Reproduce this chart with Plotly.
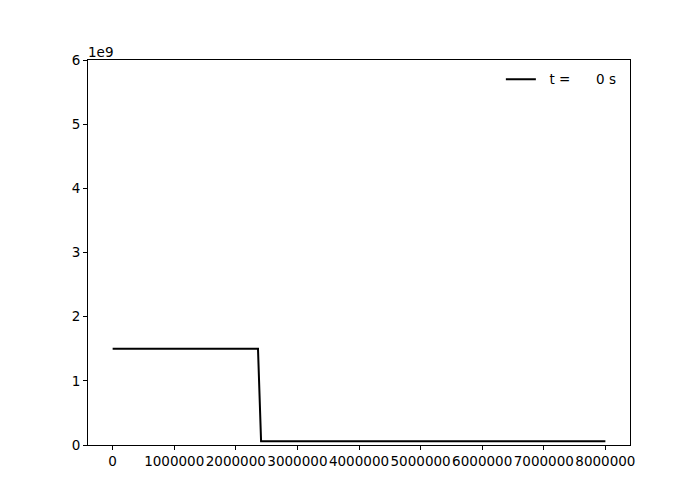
import plotly.graph_objects as go

x_vals = [0, 2360000, 2410000, 8000000]
y_vals = [1.5e9, 1.5e9, 0.06e9, 0.06e9]
series_name = "\u00a0\u00a0t =\u00a0\u00a0\u00a0\u00a0\u00a0\u00a00 s"
x_ticks = [0, 1000000, 2000000, 3000000, 4000000, 5000000, 6000000, 7000000, 8000000]
x_ticklabels = [str(v) for v in x_ticks]
y_ticks = [0, 1e9, 2e9, 3e9, 4e9, 5e9, 6e9]
y_ticklabels = ["0", "1", "2", "3", "4", "5", "6"]

fig = go.Figure()
fig.add_trace(go.Scatter(x=x_vals, y=y_vals, mode="lines", name=series_name,
                         line=dict(color="black", width=2), showlegend=True))

axis_common = dict(showgrid=False, zeroline=False, showline=True, linecolor="black",
                   linewidth=1, mirror=True, ticks="outside", ticklen=4, tickcolor="black",
                   automargin=False, tickangle=0,
                   tickfont=dict(family="DejaVu Sans", size=13.5, color="black"))
fig.update_xaxes(range=[-400000, 8400000], tickvals=x_ticks, ticktext=x_ticklabels, **axis_common)
fig.update_yaxes(range=[0, 6e9], tickvals=y_ticks, ticktext=y_ticklabels, **axis_common)

fig.add_annotation(text="1e9", xref="paper", yref="paper", x=0, y=1, xanchor="left",
                   yanchor="bottom", showarrow=False, yshift=-2, xshift=-2,
                   font=dict(family="DejaVu Sans", size=13.5, color="black"))

fig.update_layout(width=700, height=500, margin=dict(l=88, r=70, t=60, b=55),
                  paper_bgcolor="white", plot_bgcolor="white",
                  font=dict(family="DejaVu Sans", size=13.5, color="black"),
                  legend=dict(x=0.985, y=0.99, xanchor="right", yanchor="top",
                              bgcolor="rgba(0,0,0,0)", borderwidth=0,
                              font=dict(family="DejaVu Sans", size=13.5, color="black")))
fig.write_html("out.html")
